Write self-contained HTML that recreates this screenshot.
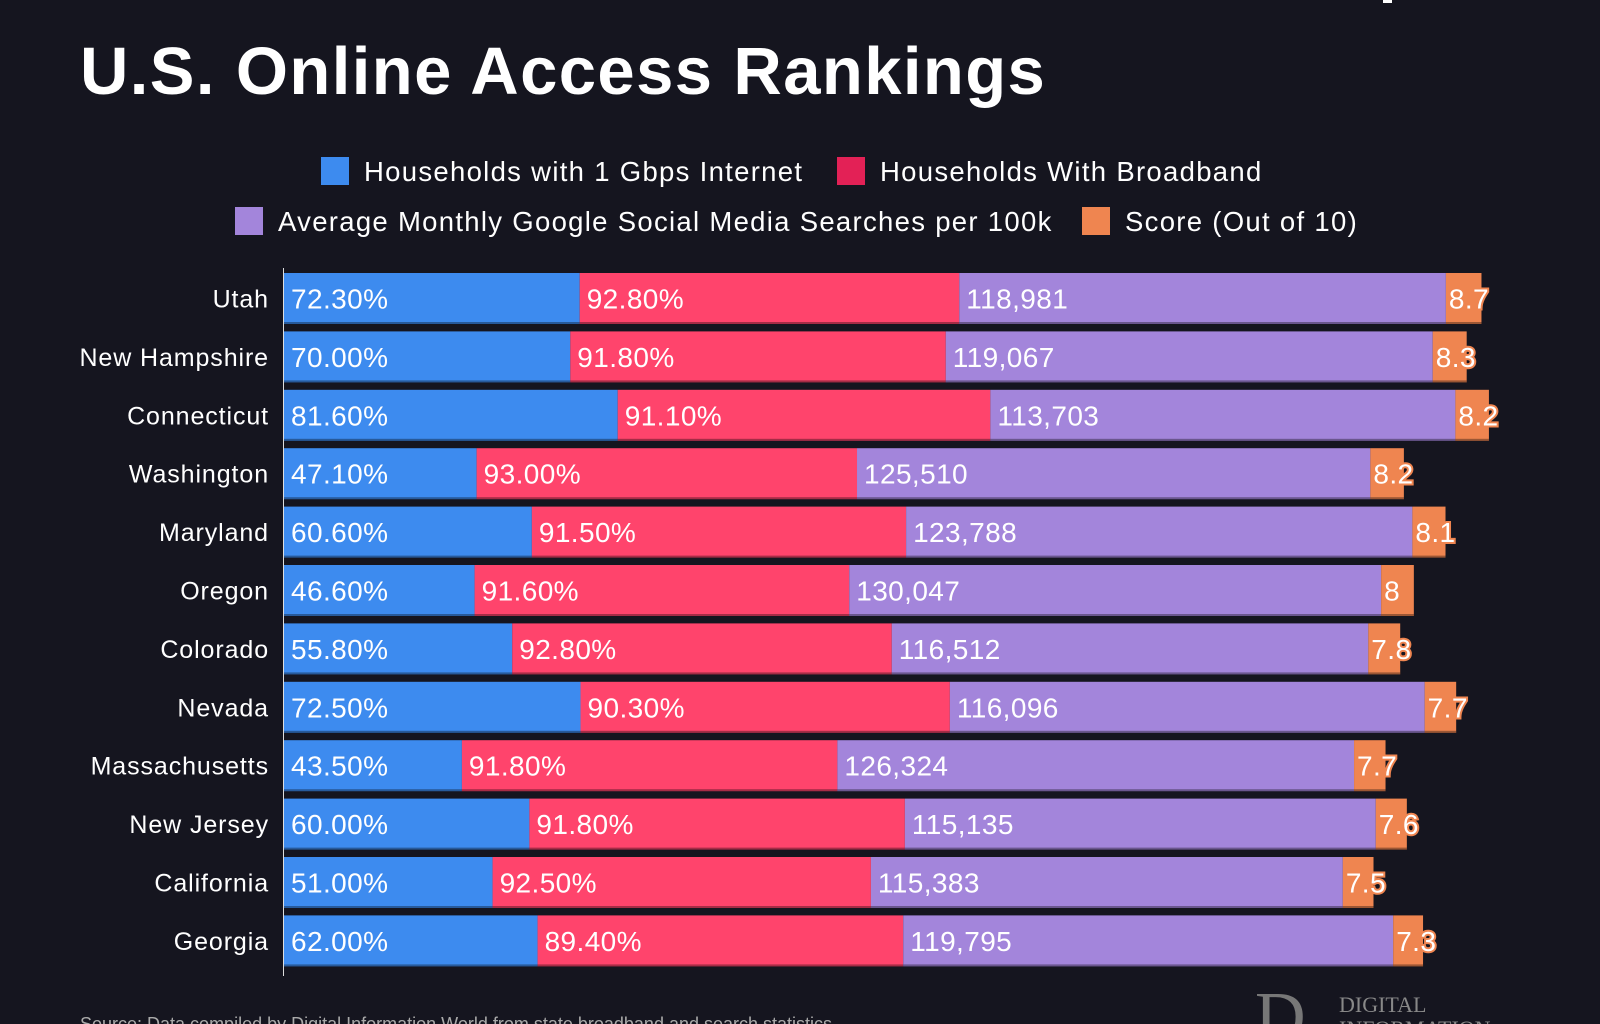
<!DOCTYPE html>
<html><head><meta charset="utf-8"><style>
html,body{margin:0;padding:0;background:#15151f;}
body{width:1600px;height:1024px;overflow:hidden;font-family:"Liberation Sans",sans-serif;}
</style></head><body>
<svg id="chart" width="1600" height="1024" xmlns="http://www.w3.org/2000/svg" style="display:block">
<rect width="1600" height="1024" fill="#15151f"/>
<rect x="1383" y="0" width="9" height="3" fill="#fff"/>
<text x="80" y="94" fill="#fff" font-size="67" font-weight="bold" letter-spacing="1.4">U.S. Online Access Rankings</text>
<g font-size="27.5" fill="#fff" letter-spacing="1.3">
<g><rect x="321" y="157" width="28" height="28" fill="#3d8bef"/><text x="364" y="181">Households with 1 Gbps Internet</text></g>
<g><rect x="837" y="157" width="28" height="28" fill="#e32156"/><text x="880" y="181">Households With Broadband</text></g>
<g><rect x="235" y="207" width="28" height="28" fill="#a385db"/><text x="278" y="231">Average Monthly Google Social Media Searches per 100k</text></g>
<g><rect x="1082" y="207" width="28" height="28" fill="#ef8550"/><text x="1125" y="231">Score (Out of 10)</text></g>
</g>
<g id="bars"></g>
<line x1="283.5" y1="268" x2="283.5" y2="976" stroke="#ddd" stroke-width="1"/>
<text x="80" y="1030" fill="#aaa" font-size="18">Source: Data compiled by Digital Information World from state broadband and search statistics</text>
<text x="1255" y="1040" fill="#777" font-size="70" font-family="Liberation Serif, serif">D</text>
<text x="1339" y="1012" fill="#888" font-size="22" font-family="Liberation Serif, serif">DIGITAL</text>
<text x="1339" y="1036" fill="#888" font-size="22" font-family="Liberation Serif, serif">INFORMATION</text>
</svg>
<script>
const states=["Utah","New Hampshire","Connecticut","Washington","Maryland","Oregon","Colorado","Nevada","Massachusetts","New Jersey","California","Georgia"];
const gbps=[72.3,70.0,81.6,47.1,60.6,46.6,55.8,72.5,43.5,60.0,51.0,62.0];
const broadband=[92.8,91.8,91.1,93.0,91.5,91.6,92.8,90.3,91.8,91.8,92.5,89.4];
const searches=[118981,119067,113703,125510,123788,130047,116512,116096,126324,115135,115383,119795];
const scores=[8.7,8.3,8.2,8.2,8.1,8,7.8,7.7,7.7,7.6,7.5,7.3];
const NS="http://www.w3.org/2000/svg";
const g=document.getElementById('bars');
const x0=284,k=4.09,top0=273,pitch=58.4,bh=51;
const xs=v=>v*k;
const fmtPct=v=>v.toFixed(2)+"%";
const fmtNum=v=>v.toLocaleString("en-US");
function mk(tag,attrs){const e=document.createElementNS(NS,tag);for(const a in attrs)e.setAttribute(a,attrs[a]);return e;}
states.forEach((s,i)=>{
  const y=top0+i*pitch;
  const lab=mk('text',{x:269,y:y+bh/2+9,fill:'#fff','font-size':25,'text-anchor':'end','letter-spacing':0.9});
  lab.textContent=s;
  
  
  g.appendChild(lab);
  const segs=[[gbps[i],'#3d8bef',fmtPct(gbps[i]),'bar-gbps'],[broadband[i],'#ff446c',fmtPct(broadband[i]),'bar-broadband'],[searches[i]/1000,'#a385db',fmtNum(searches[i]),'bar-searches'],[scores[i],'#ef8550',String(scores[i]),'bar-score']];
  let x=x0;
  segs.forEach((sg,j)=>{
    const w=xs(sg[0]);
    const r=mk('rect',{x:x,y:y,width:w,height:bh,fill:sg[1]});
    
    
    g.appendChild(r);
    const sep=mk('rect',{x:x,y:y+bh-2,width:w,height:2,fill:'rgba(0,0,0,0.35)'});
    
    
    g.appendChild(sep);
    const t=mk('text',{x:x+7,y:y+bh/2+10,fill:'#fff','font-size':28,'letter-spacing':0.4});
    if(j===3){t.setAttribute('stroke','#ef8550');t.setAttribute('stroke-width','4');t.setAttribute('paint-order','stroke');t.setAttribute('x',x+3);}
    t.textContent=sg[2];
    
    
    g.appendChild(t);
    x+=w;
  });
});
</script>
</body></html>
